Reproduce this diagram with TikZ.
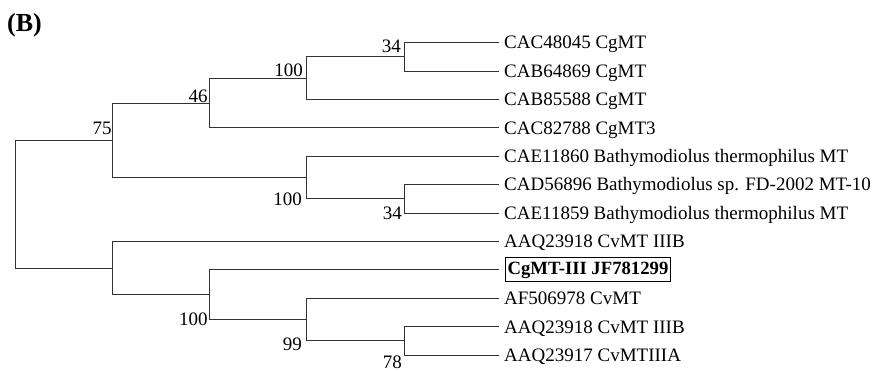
\documentclass[tikz,border=0pt]{standalone}
\usepackage{fontspec}
\setmainfont{Liberation Serif}
\usepackage{xcolor}
\definecolor{treeGray}{HTML}{333333}

\begin{document}
\begin{tikzpicture}[x=1pt,y=-1pt,
  branch/.style={draw=treeGray,line width=0.9pt},
  taxon/.style={anchor=west,inner xsep=5pt,inner ysep=0pt,text height=12.6pt,text depth=0pt,font=\fontsize{19}{22}\selectfont},
  boot/.style={inner sep=0pt,text height=12.8pt,text depth=0pt,font=\fontsize{19}{22}\selectfont}]
  \useasboundingbox (0,0) rectangle (878,371);
  \node[anchor=base west,inner sep=0pt,font=\fontsize{26}{28}\selectfont\bfseries] (lab) at (7,31.7) {(B)};

  % taxa
  \node[taxon] (t1) at (499,42.7) {CAC48045 CgMT};
  \node[taxon] (t2) at (499,71.1) {CAB64869 CgMT};
  \node[taxon] (t3) at (499,99.5) {CAB85588 CgMT};
  \node[taxon] (t4) at (499,127.9) {CAC82788 CgMT3};
  \node[taxon] (t5) at (499,156.3) {CAE11860 Bathymodiolus thermophilus MT};
  \node[taxon] (t6) at (499,184.7) {CAD56896 Bathymodiolus sp. FD-2002 MT-10};
  \node[taxon] (t7) at (499,213.1) {CAE11859 Bathymodiolus thermophilus MT};
  \node[taxon] (t8) at (499,241.5) {AAQ23918 CvMT IIIB};
  \node[taxon,draw=black,line width=0.8pt,inner xsep=2.5pt,inner ysep=3.5pt,outer xsep=6pt,text height=13pt,text depth=4pt,font=\fontsize{18.7}{22}\selectfont\bfseries] (t9) at (499,269.9) {CgMT-III JF781299};
  \node[taxon] (t10) at (499,298.3) {AF506978 CvMT};
  \node[taxon] (t11) at (499,326.7) {AAQ23918 CvMT IIIB};
  \node[taxon] (t12) at (499,355.1) {AAQ23917 CvMTIIIA};

  % inner nodes
  \coordinate (c34a) at (404,56.9);
  \coordinate (c100a) at (306,78.2);
  \coordinate (c46) at (209.3,103.05);
  \coordinate (c34b) at (404,198.9);
  \coordinate (c100b) at (306,177.6);
  \coordinate (c75) at (112.7,140.3);
  \coordinate (c78) at (404,340.9);
  \coordinate (c99) at (306,319.6);
  \coordinate (c100c) at (209.3,294.75);
  \coordinate (clo) at (112.7,268.1);
  \coordinate (r) at (15,204.2);

  % branches
  \draw[branch] (r) |- (c75);
  \draw[branch] (r) |- (clo);
  \draw[branch] (c75) |- (c46);
  \draw[branch] (c75) |- (c100b);
  \draw[branch] (c46) |- (c100a);
  \draw[branch] (c46) |- (t4.west);
  \draw[branch] (c100a) |- (c34a);
  \draw[branch] (c100a) |- (t3.west);
  \draw[branch] (c34a) |- (t1.west);
  \draw[branch] (c34a) |- (t2.west);
  \draw[branch] (c100b) |- (t5.west);
  \draw[branch] (c100b) |- (c34b);
  \draw[branch] (c34b) |- (t6.west);
  \draw[branch] (c34b) |- (t7.west);
  \draw[branch] (clo) |- (t8.west);
  \draw[branch] (clo) |- (c100c);
  \draw[branch] (c100c) |- (t9.west);
  \draw[branch] (c100c) |- (c99);
  \draw[branch] (c99) |- (t10.west);
  \draw[branch] (c99) |- (c78);
  \draw[branch] (c78) |- (t11.west);
  \draw[branch] (c78) |- (t12.west);

  % bootstrap values
  \node[boot,anchor=south east,xshift=-3pt,yshift=3.7pt] (b34a) at (c34a) {34};
  \node[boot,anchor=south east,xshift=-3pt,yshift=1.5pt] (b100a) at (c100a) {100};
  \node[boot,anchor=south east,xshift=-1.5pt,yshift=0.3pt] (b46) at (c46) {46};
  \node[boot,anchor=south east,xshift=-1pt,yshift=5.3pt] (b75) at (c75) {75};
  \node[boot,anchor=east,xshift=-4pt,yshift=-0.6pt] (b100b) at (c100b |- c34b) {100};
  \node[boot,anchor=north east,xshift=-2pt,yshift=-7.8pt] (b34b) at (c34b) {34};
  \node[boot,anchor=east,xshift=-1.5pt] (b100c) at (c100c |- c99) {100};
  \node[boot,anchor=north east,xshift=-4pt,yshift=3pt] (b99) at (c99 |- c78) {99};
  \node[boot,anchor=north east,xshift=-2pt,yshift=0pt] (b78) at (c78 |- t12) {78};
\end{tikzpicture}
\end{document}
